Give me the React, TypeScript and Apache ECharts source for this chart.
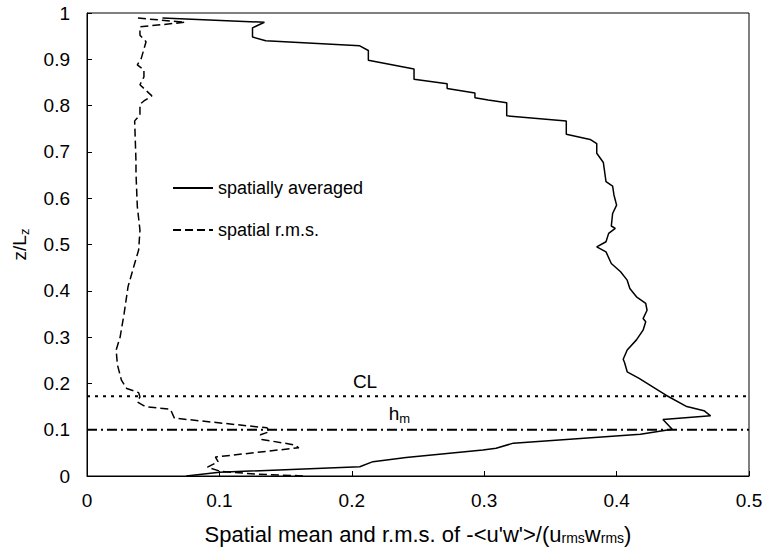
import React, { useEffect, useRef } from "react";
import * as echarts from "echarts";

// Spatially averaged profile: [value, z/Lz]
const meanX = [0.057, 0.134, 0.125, 0.125, 0.135, 0.206, 0.2125, 0.2125, 0.247, 0.247, 0.272, 0.272, 0.293, 0.293, 0.303, 0.317, 0.317, 0.362, 0.362, 0.380, 0.385, 0.385, 0.390, 0.392, 0.397, 0.398, 0.400, 0.397, 0.396, 0.399, 0.394, 0.392, 0.385, 0.392, 0.396, 0.403, 0.408, 0.410, 0.415, 0.422, 0.423, 0.420, 0.422, 0.420, 0.415, 0.408, 0.405, 0.406, 0.408, 0.417, 0.437, 0.453, 0.466, 0.471, 0.435, 0.442, 0.418, 0.322, 0.309, 0.299, 0.241, 0.216, 0.206, 0.100, 0.075];
const meanZ = [0.989, 0.980, 0.968, 0.948, 0.940, 0.929, 0.919, 0.898, 0.879, 0.857, 0.847, 0.837, 0.827, 0.817, 0.812, 0.806, 0.778, 0.767, 0.738, 0.727, 0.718, 0.697, 0.677, 0.636, 0.626, 0.607, 0.585, 0.567, 0.540, 0.535, 0.524, 0.506, 0.495, 0.484, 0.459, 0.441, 0.423, 0.405, 0.387, 0.373, 0.358, 0.340, 0.333, 0.315, 0.294, 0.272, 0.252, 0.245, 0.225, 0.211, 0.175, 0.150, 0.141, 0.130, 0.122, 0.101, 0.090, 0.071, 0.060, 0.056, 0.040, 0.031, 0.020, 0.008, 0.0];

// Spatial r.m.s. profile
const rmsX = [0.0385, 0.074, 0.040, 0.040, 0.0446, 0.041, 0.038, 0.043, 0.043, 0.040, 0.049, 0.043, 0.040, 0.040, 0.036, 0.037, 0.037, 0.038, 0.040, 0.039, 0.036, 0.031, 0.028, 0.025, 0.022, 0.023, 0.026, 0.030, 0.039, 0.040, 0.038, 0.044, 0.063, 0.066, 0.136, 0.138, 0.131, 0.132, 0.157, 0.160, 0.097, 0.099, 0.091, 0.101, 0.128, 0.165];
const rmsZ = [0.989, 0.980, 0.970, 0.952, 0.938, 0.902, 0.888, 0.877, 0.862, 0.845, 0.821, 0.810, 0.803, 0.780, 0.767, 0.679, 0.654, 0.582, 0.531, 0.488, 0.459, 0.409, 0.350, 0.300, 0.272, 0.240, 0.207, 0.189, 0.180, 0.171, 0.160, 0.150, 0.144, 0.125, 0.104, 0.096, 0.089, 0.079, 0.067, 0.061, 0.041, 0.031, 0.019, 0.010, 0.004, 0.0];

// Reference levels
const clLevel = 0.172;
const hmLevel = 0.1;
const xRange = [0, 0.5];
const clLabelX = 0.21;
const hmLabelX = 0.236;

const xTicks = ["0", "0.1", "0.2", "0.3", "0.4", "0.5"];
const yTicks = ["0", "0.1", "0.2", "0.3", "0.4", "0.5", "0.6", "0.7", "0.8", "0.9", "1"];

const FONT = "'Liberation Sans', Arial, Helvetica, sans-serif";
const FS = 19;
const LEG_FS = 18;
const NAME_FS = 22;

export default function App() {
  const ref = useRef<HTMLDivElement>(null);
  useEffect(() => {
    if (!ref.current) return;
    const chart = echarts.init(ref.current, undefined, { renderer: "svg" });
    const meanData = meanX.map((x, i) => [x, meanZ[i]]);
    const rmsData = rmsX.map((x, i) => [x, rmsZ[i]]);
    const sub = { fontSize: 13, fontFamily: FONT, color: "#000", padding: [10, 0, 0, 0] };
    const subBig = { fontSize: 14, fontFamily: FONT, color: "#000", padding: [8, 0, 0, 0] };
    chart.setOption({
      animation: false,
      backgroundColor: "#fff",
      textStyle: { fontFamily: FONT },
      grid: {
        left: 87,
        right: 16,
        top: 13,
        bottom: 77,
        containLabel: false,
        outerBoundsMode: "none",
        show: true,
        borderColor: "#000",
        borderWidth: 1,
        backgroundColor: "transparent",
      },
      legend: {
        orient: "vertical",
        left: 167,
        top: 174,
        itemWidth: 40,
        itemHeight: 16,
        itemGap: 24,
        itemStyle: { opacity: 0 },
        textStyle: { fontSize: LEG_FS, color: "#000", fontFamily: FONT },
        data: ["spatially averaged", "spatial r.m.s."],
      },
      xAxis: {
        type: "value",
        min: xRange[0],
        max: xRange[1],
        interval: 0.1,
        axisLine: { show: true, lineStyle: { color: "#000", width: 1 } },
        axisTick: { show: true, inside: true, length: 5, lineStyle: { color: "#000" } },
        splitLine: { show: false },
        axisLabel: {
          fontSize: FS,
          color: "#000",
          margin: 15,
          fontFamily: FONT,
          formatter: (v: number) => xTicks[Math.round(v * 10)] ?? String(v),
        },
        name: "Spatial mean and r.m.s. of -<u'w'>/(u{sub|rms}w{sub|rms})",
        nameLocation: "middle",
        nameGap: 47,
        nameTextStyle: {
          fontSize: NAME_FS,
          color: "#000",
          fontFamily: FONT,
          rich: { sub: subBig },
        },
      },
      yAxis: {
        type: "value",
        min: 0,
        max: 1,
        interval: 0.1,
        axisLine: { show: true, lineStyle: { color: "#000", width: 1 } },
        axisTick: { show: true, inside: true, length: 5, lineStyle: { color: "#000" } },
        splitLine: { show: false },
        axisLabel: {
          fontSize: FS,
          color: "#000",
          margin: 17,
          fontFamily: FONT,
          formatter: (v: number) => yTicks[Math.round(v * 10)] ?? String(v),
        },
        name: "z/L{sub|z}",
        nameLocation: "middle",
        nameGap: 56,
        nameTextStyle: {
          fontSize: FS,
          color: "#000",
          fontFamily: FONT,
          rich: { sub },
        },
      },
      series: [
        {
          name: "spatially averaged",
          type: "line",
          data: meanData,
          symbol: "none",
          showSymbol: false,
          lineStyle: { color: "#000", width: 1.5, type: "solid" },
          itemStyle: { color: "#000" },
          z: 5,
        },
        {
          name: "spatial r.m.s.",
          type: "line",
          data: rmsData,
          symbol: "none",
          showSymbol: false,
          lineStyle: { color: "#000", width: 1.5, type: [8, 4] },
          itemStyle: { color: "#000" },
          z: 5,
        },
        {
          name: "CL",
          type: "line",
          data: [[xRange[0], clLevel], [xRange[1], clLevel]],
          symbol: "none",
          lineStyle: { color: "#000", width: 2, type: [3, 5] },
          z: 3,
        },
        {
          name: "hm",
          type: "line",
          data: [[xRange[0], hmLevel], [xRange[1], hmLevel]],
          symbol: "none",
          lineStyle: { color: "#000", width: 2, type: [10, 4, 2, 4] },
          z: 3,
        },
      ],
    });
    const clPx = chart.convertToPixel({ gridIndex: 0 }, [clLabelX, clLevel]) as number[];
    const hmPx = chart.convertToPixel({ gridIndex: 0 }, [hmLabelX, hmLevel]) as number[];
    chart.setOption({
      graphic: [
        {
          type: "text",
          x: clPx[0],
          y: clPx[1] - 5,
          silent: true,
          style: {
            text: "CL",
            fill: "#000",
            font: `${FS}px ${FONT}`,
            align: "center",
            verticalAlign: "bottom",
          },
        },
        {
          type: "text",
          x: hmPx[0],
          y: hmPx[1] - 5,
          silent: true,
          style: {
            text: "h{sub|m}",
            fill: "#000",
            font: `${FS}px ${FONT}`,
            align: "center",
            verticalAlign: "bottom",
            rich: { sub: { fontSize: 13, fontFamily: FONT, fill: "#000", padding: [10, 0, 0, 0] } },
          },
        },
      ],
    });
    return () => chart.dispose();
  }, []);
  return (
    <div
      ref={ref}
      style={{ position: "fixed", left: 0, top: 0, width: 765, height: 553, background: "#fff" }}
    />
  );
}
